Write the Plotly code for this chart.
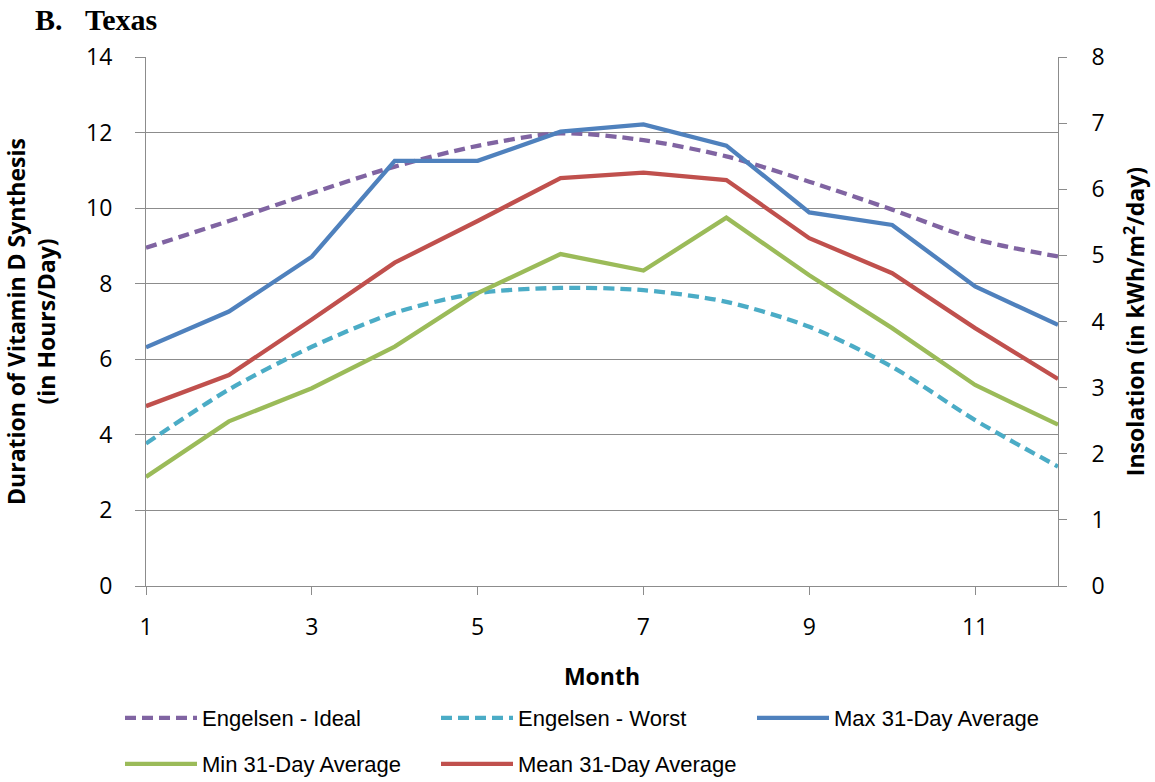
import plotly.graph_objects as go

months = list(range(1, 13))

# Duration of vitamin D synthesis (hours/day), left axis
engelsen_ideal = [8.95, 9.66, 10.4, 11.1, 11.65, 11.98, 11.8, 11.37, 10.7, 9.96, 9.18, 8.72]
engelsen_worst = [3.77, 5.2, 6.33, 7.23, 7.75, 7.89, 7.83, 7.52, 6.86, 5.8, 4.39, 3.16]

# Insolation (kWh/m2/day), right axis
max_31day = [3.61, 4.15, 4.98, 6.43, 6.43, 6.87, 6.98, 6.66, 5.65, 5.46, 4.53, 3.95]
min_31day = [1.65, 2.49, 2.99, 3.62, 4.43, 5.02, 4.77, 5.57, 4.7, 3.9, 3.04, 2.44]
mean_31day = [2.72, 3.19, 4.03, 4.89, 5.52, 6.17, 6.25, 6.14, 5.26, 4.73, 3.9, 3.13]

x_ticks = [1, 3, 5, 7, 9, 11]

PURPLE = "#8064A2"
TEAL = "#4BACC6"
BLUE = "#4F81BD"
GREEN = "#9BBB59"
RED = "#C0504D"
AXIS_GRAY = "#8c8c8c"

tick_font = dict(family="Open Sans, Calibri, sans-serif", size=23, color="#000000")
title_font = dict(family="Open Sans, Calibri, sans-serif", size=23, color="#000000")
legend_font = dict(family="Liberation Sans Narrow, Arial Narrow, Liberation Sans, sans-serif",
                   size=22, color="#000000")

fig = go.Figure()

fig.add_trace(go.Scatter(
    x=months, y=engelsen_ideal, name="Engelsen - Ideal", mode="lines",
    line=dict(color=PURPLE, width=4.3, dash="11px,6px", shape="spline", smoothing=0.8),
    legend="legend"))
fig.add_trace(go.Scatter(
    x=months, y=engelsen_worst, name="Engelsen - Worst", mode="lines",
    line=dict(color=TEAL, width=4.3, dash="11px,6px", shape="spline", smoothing=0.8),
    legend="legend"))
fig.add_trace(go.Scatter(
    x=months, y=max_31day, name="Max 31-Day Average", mode="lines",
    line=dict(color=BLUE, width=4.3), yaxis="y2", legend="legend"))
fig.add_trace(go.Scatter(
    x=months, y=min_31day, name="Min 31-Day Average", mode="lines",
    line=dict(color=GREEN, width=4.3), yaxis="y2", legend="legend2"))
fig.add_trace(go.Scatter(
    x=months, y=mean_31day, name="Mean 31-Day Average", mode="lines",
    line=dict(color=RED, width=4.3), yaxis="y2", legend="legend2"))

legend_common = dict(
    orientation="h", font=legend_font, xanchor="left", yanchor="middle",
    entrywidth=229, entrywidthmode="pixels", itemwidth=72,
    bgcolor="rgba(0,0,0,0)", itemclick=False, itemdoubleclick=False,
)

fig.update_layout(
    width=1155, height=782,
    margin=dict(l=146, r=97, t=57, b=196, autoexpand=False),
    paper_bgcolor="white", plot_bgcolor="white",
    showlegend=True,
    title=dict(
        text="<b>B.\u00a0\u00a0\u00a0Texas</b>",
        font=dict(family="Liberation Serif, DejaVu Serif, serif", size=30, color="#000000"),
        x=35 / 1155, xanchor="left", y=1 - 19 / 782, yanchor="middle",
    ),
    xaxis=dict(
        range=[1, 12], tickmode="array", tickvals=x_ticks,
        ticks="outside", ticklen=8, tickcolor=AXIS_GRAY, ticklabelstandoff=12,
        showline=True, linecolor=AXIS_GRAY, linewidth=1,
        showgrid=False, zeroline=False, tickfont=tick_font,
        title=dict(text="<b>Month</b>", font=title_font, standoff=28),
    ),
    yaxis=dict(
        range=[0, 14], dtick=2, ticks="outside", ticklen=10, tickcolor=AXIS_GRAY,
        ticklabelstandoff=18,
        showline=True, linecolor=AXIS_GRAY, linewidth=1,
        showgrid=True, gridcolor=AXIS_GRAY, gridwidth=1, zeroline=False,
        tickfont=tick_font,
        title=dict(text="<b>Duration of Vitamin D Synthesis<br>(in Hours/Day)</b>",
                   font=title_font, standoff=27),
    ),
    yaxis2=dict(
        range=[0, 8], dtick=1, overlaying="y", side="right",
        ticks="outside", ticklen=8, tickcolor=AXIS_GRAY, ticklabelstandoff=20,
        showline=True, linecolor=AXIS_GRAY, linewidth=1,
        showgrid=False, zeroline=False, tickfont=tick_font,
        title=dict(text="<b>Insolation (in kWh/m<sup>2</sup>/day)</b>",
                   font=title_font, standoff=24),
    ),
    legend=dict(x=(120 - 146) / 912, y=-(718 - 586) / 529, **legend_common),
    legend2=dict(x=(120 - 146) / 912, y=-(764 - 586) / 529, **legend_common),
)

fig.write_html("out.html")
